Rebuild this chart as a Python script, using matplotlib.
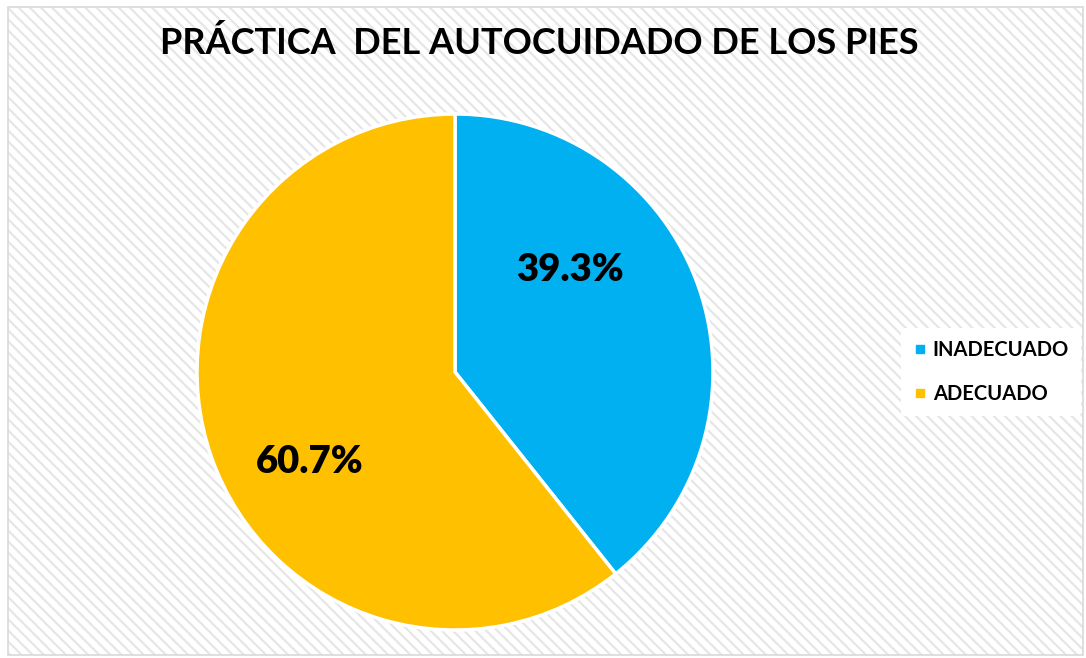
import matplotlib
matplotlib.use("Agg")
import matplotlib.pyplot as plt
from matplotlib.patches import Rectangle
from matplotlib.lines import Line2D

# datos del grafico
categorias = ["INADECUADO", "ADECUADO"]
porcentajes = [39.3, 60.7]
colores = ["#00b0f0", "#ffc000"]
titulo = "PRÁCTICA  DEL AUTOCUIDADO DE LOS PIES"

plt.rcParams['font.family'] = ['Lato', 'DejaVu Sans']
plt.rcParams['hatch.linewidth'] = 1.6

fig = plt.figure(figsize=(10.86, 6.58), dpi=100)

# fondo rayado con borde
fondo = Rectangle((8 / 1086, 3 / 658), 1075 / 1086, 648 / 658, transform=fig.transFigure,
                  facecolor="white", edgecolor="#e6e6e6", hatch="\\\\\\", linewidth=0, zorder=-2)
fig.patches.append(fondo)
borde = Rectangle((8 / 1086, 3 / 658), 1075 / 1086, 648 / 658, transform=fig.transFigure,
                  facecolor="none", edgecolor="#d9d9d9", linewidth=1.2, zorder=-1)
fig.patches.append(borde)

r = 258
cx, cy = 455, 658 - 372
ax = fig.add_axes([(cx - r) / 1086, (cy - r) / 658, 2 * r / 1086, 2 * r / 658])
ax.pie(porcentajes, colors=colores, startangle=90, counterclock=False,
       wedgeprops=dict(edgecolor="white", linewidth=2.5))
ax.set_xlim(-1, 1)
ax.set_ylim(-1, 1)
ax.set_aspect("auto")
ax.axis("off")

# etiquetas de porcentaje
ax.text(0.446, 0.395, f"{porcentajes[0]}%", ha="center", va="center",
        fontsize=27.5, fontweight="heavy", color="black")
ax.text(-0.562, -0.349, f"{porcentajes[1]}%", ha="center", va="center",
        fontsize=27.5, fontweight="heavy", color="black")

fig.text(0.497, 0.935, titulo, ha="center", va="center",
         fontsize=26, fontweight="bold", color="black")

handles = [Line2D([], [], marker="s", linestyle="none", markersize=6,
                  markerfacecolor=c, markeredgecolor=c) for c in colores]
fig.legend(handles, categorias, loc="center left", bbox_to_anchor=(0.82, 0.435),
           frameon=True, facecolor="white", edgecolor="none", framealpha=1,
           prop=dict(weight="bold", size=14.5), handletextpad=0.3, handlelength=0.7,
           labelspacing=1.2, borderpad=0.6)

fig.savefig("out.png", dpi=100)
